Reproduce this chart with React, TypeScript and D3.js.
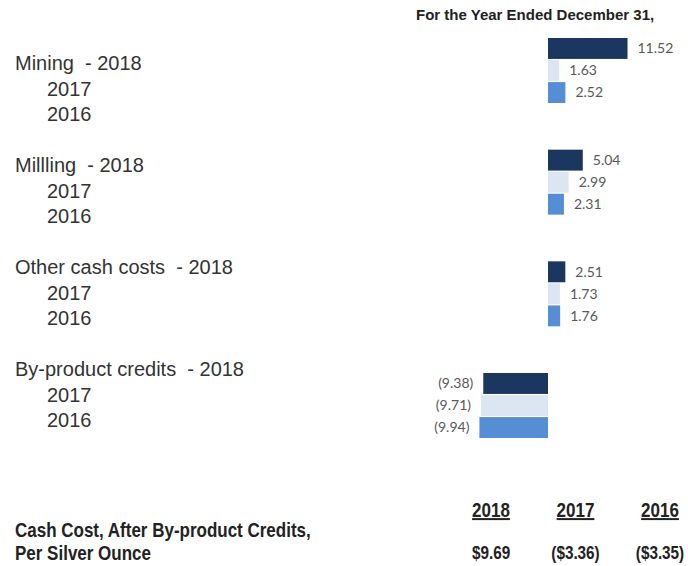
import React from "react";
import * as d3 from "d3";

const categories = ["Mining", "Millling", "Other cash costs", "By-product credits"];
const years = ["2018", "2017", "2016"];
const values2018 = [11.52, 5.04, 2.51, -9.38];
const values2017 = [1.63, 2.99, 1.73, -9.71];
const values2016 = [2.52, 2.31, 1.76, -9.94];
const cashCostYears = ["2018", "2017", "2016"];
const cashCostValues = [9.69, -3.36, -3.35];
const titleText = "For the Year Ended December 31,";
const footerLines = ["Cash Cost, After By-product Credits,", "Per Silver Ounce"];

const W = 688;
const H = 566;
const colors = ["#1b365f", "#dce6f2", "#558ed5"];
const NARROW = 0.85;

export default function App() {
  const seriesByYear = [values2018, values2017, values2016];

  const x = d3.scaleLinear().domain([0, 11.52]).range([548, 627.5]);
  const yGroup = d3.scaleBand<string>().domain(categories).range([38, 438]).paddingInner(0.418).paddingOuter(0);
  const yInner = d3.scaleBand<string>().domain(years).range([0, yGroup.bandwidth()]).paddingInner(0.05);
  const labelY = d3.scalePoint<string>().domain(categories).range([70, 376]);
  const colX = d3.scalePoint<string>().domain(cashCostYears).range([491, 660]);
  const color = d3.scaleOrdinal<string, string>().domain(years).range(colors);

  const fmtNum = d3.format(".2f");
  const fmtVal = (v: number) => (v < 0 ? `(${fmtNum(-v)})` : fmtNum(v));
  const fmtCash = (v: number) => (v < 0 ? `($${fmtNum(-v)})` : `$${fmtNum(v)}`);

  const labelFont = "'Liberation Sans', Arial, sans-serif";

  return (
    <svg
      width={W}
      height={H}
      style={{ position: "absolute", left: 0, top: 0, background: "#fff" }}
    >
      <text
        x={416}
        y={20}
        fontFamily={labelFont}
        fontWeight="bold"
        fontSize={15}
        fill="#222"
      >
        {titleText}
      </text>

      {categories.map((cat, ci) => (
        <g key={cat}>
          {years.map((yr, yi) => {
            const v = seriesByYear[yi][ci];
            const y0 = (yGroup(cat) ?? 0) + (yInner(yr) ?? 0);
            const bh = yInner.bandwidth();
            const x0 = Math.min(x(0), x(v));
            const w = Math.abs(x(v) - x(0));
            const neg = v < 0;
            return (
              <g key={yr}>
                <rect x={x0} y={y0} width={w} height={bh} fill={color(yr)} />
                <text
                  x={neg ? x(v) - 10 : x(v) + 10}
                  y={y0 + bh / 2}
                  dy="0.35em"
                  textAnchor={neg ? "end" : "start"}
                  fontFamily="Lato, 'Open Sans', sans-serif"
                  fontSize={14}
                  fill="#595959"
                >
                  {fmtVal(v)}
                </text>
              </g>
            );
          })}
          {years.map((yr, yi) => (
            <text
              key={"l" + yr}
              x={yi === 0 ? 15 : 47}
              y={(labelY(cat) ?? 0) + yi * 25.7}
              fontFamily={labelFont}
              fontSize={20}
              fill="#333"
              style={{ whiteSpace: "pre" }}
            >
              {yi === 0 ? `${cat}  - ${yr}` : yr}
            </text>
          ))}
        </g>
      ))}

      {cashCostYears.map((yr) => (
        <text
          key={"h" + yr}
          transform={`translate(${colX(yr)},517) scale(${NARROW},1)`}
          textAnchor="middle"
          fontFamily={labelFont}
          fontWeight="bold"
          fontSize={20}
          fill="#222"
          textDecoration="underline"
        >
          {yr}
        </text>
      ))}
      {cashCostValues.map((v, i) => (
        <text
          key={"v" + i}
          transform={`translate(${colX(cashCostYears[i])},559) scale(${NARROW},1)`}
          textAnchor="middle"
          fontFamily={labelFont}
          fontWeight="bold"
          fontSize={18}
          fill="#222"
        >
          {fmtCash(v)}
        </text>
      ))}
      {footerLines.map((t, i) => (
        <text
          key={t}
          transform={`translate(15,${537 + i * 23}) scale(${NARROW},1)`}
          fontFamily={labelFont}
          fontWeight="bold"
          fontSize={20}
          fill="#222"
        >
          {t}
        </text>
      ))}
    </svg>
  );
}
